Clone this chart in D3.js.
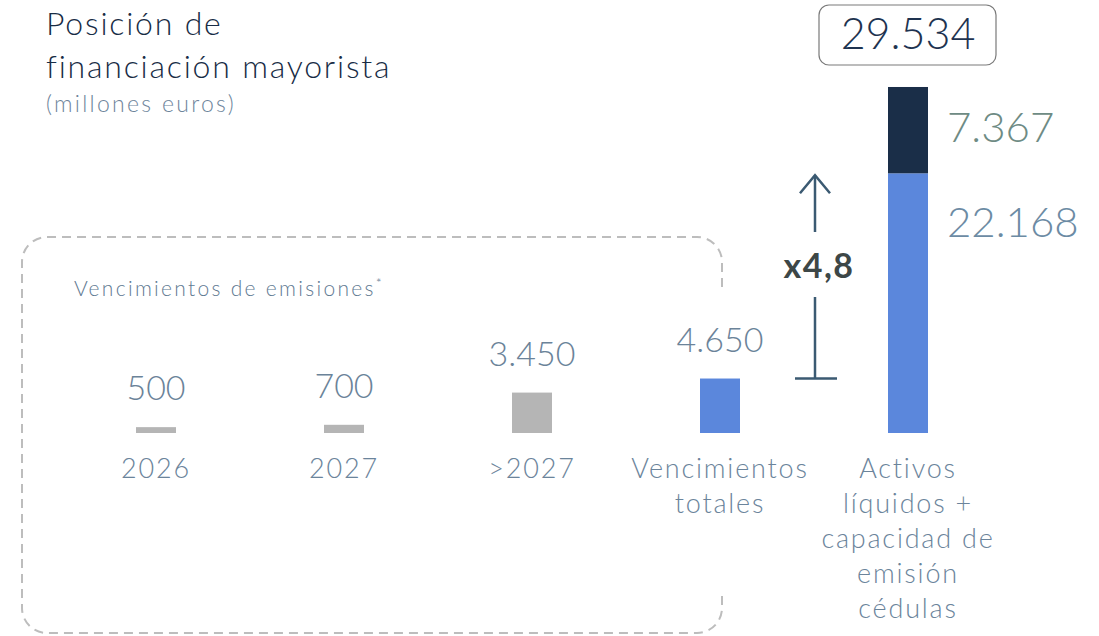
<!DOCTYPE html>
<html>
<head>
<meta charset="utf-8">
<script src="https://cdn.jsdelivr.net/npm/d3@7"></script>
<style>
  body { margin: 0; background: #fff; }
  svg { font-family: "Lato", "Open Sans", sans-serif; }
</style>
</head>
<body>
<script>
// Chart data
var categories = ["2026", "2027", ">2027", "Vencimientos totales", "Activos líquidos + capacidad de emisión cédulas"];
var categoryLines = [["2026"], ["2027"], [">2027"], ["Vencimientos", "totales"], ["Activos", "líquidos +", "capacidad de", "emisión", "cédulas"]];
var maturities = [500, 700, 3450, 4650];
var maturityColors = ["#b5b5b5", "#b5b5b5", "#b5b5b5", "#5b87dc"];
var liquidAssets = 22168;
var bondCapacity = 7367;
var totalLiquidity = 29534;   // as published (components are rounded)
var ratioLabel = "x4,8";

var svgWidth = 1099;
var svgHeight = 636;

var svg = d3.select("body")
  .append("svg")
  .attr("width", svgWidth)
  .attr("height", svgHeight);

// Spanish number format (dot as thousands separator)
var es = d3.formatLocale({ decimal: ",", thousands: ".", grouping: [3], currency: ["", " €"] });
var fmt = es.format(",d");

var xScale = d3.scalePoint()
  .domain(categories)
  .range([156, 908]);

var yScale = d3.scaleLinear()
  .domain([0, totalLiquidity])
  .range([433, 87]);

var barWidth = 40;

// Title
svg.append("text")
  .attr("x", 46).attr("y", 35)
  .attr("font-size", 32).attr("font-weight", 300).attr("fill", "#182c45")
  .attr("letter-spacing", 1.8)
  .text("Posición de");
svg.append("text")
  .attr("x", 46).attr("y", 78)
  .attr("font-size", 32).attr("font-weight", 300).attr("fill", "#182c45")
  .attr("letter-spacing", 1.8)
  .text("financiación mayorista");
svg.append("text")
  .attr("x", 46).attr("y", 112)
  .attr("font-size", 23).attr("font-weight", 300).attr("fill", "#6e859b")
  .attr("letter-spacing", 2.3)
  .text("(millones euros)");

// Dashed box around issue maturities (open on the right where the totals label sits)
var r = 25, bx0 = 22, bx1 = 722, by0 = 237, by1 = 633;
var boxPath = d3.path();
boxPath.moveTo(bx1, 287);
boxPath.lineTo(bx1, by0 + r);
boxPath.arcTo(bx1, by0, bx1 - r, by0, r);
boxPath.lineTo(bx0 + r, by0);
boxPath.arcTo(bx0, by0, bx0, by0 + r, r);
boxPath.lineTo(bx0, by1 - r);
boxPath.arcTo(bx0, by1, bx0 + r, by1, r);
boxPath.lineTo(bx1 - r, by1);
boxPath.arcTo(bx1, by1, bx1, by1 - r, r);
boxPath.lineTo(bx1, 594);
svg.append("path")
  .attr("d", boxPath.toString())
  .attr("fill", "none")
  .attr("stroke", "#bdbdbd")
  .attr("stroke-width", 2)
  .attr("stroke-dasharray", "9,6");

var boxTitle = svg.append("text")
  .attr("x", 74).attr("y", 296)
  .attr("font-size", 21).attr("font-weight", 300).attr("fill", "#5f7a92")
  .attr("letter-spacing", 2.3)
  .text("Vencimientos de emisiones");
boxTitle.append("tspan")
  .attr("font-size", 14).attr("dy", -8)
  .text("*");

// Maturity bars
svg.selectAll(".mat")
  .data(maturities)
  .enter().append("rect")
  .attr("class", "mat")
  .attr("x", (d, i) => xScale(categories[i]) - barWidth / 2)
  .attr("y", d => yScale(d))
  .attr("width", barWidth)
  .attr("height", d => yScale(0) - yScale(d))
  .attr("fill", (d, i) => maturityColors[i]);

svg.selectAll(".matLabel")
  .data(maturities)
  .enter().append("text")
  .attr("class", "matLabel")
  .attr("x", (d, i) => xScale(categories[i]))
  .attr("y", d => yScale(d) - 27)
  .attr("text-anchor", "middle")
  .attr("font-size", 34).attr("font-weight", 300).attr("fill", "#6b8399")
  .text(d => fmt(d));

// Stacked liquidity bar
var xLast = xScale(categories[4]);
var segments = [
  { y0: 0, y1: liquidAssets, color: "#5b87dc", label: "#6c8ba4", dy: 64 },
  { y0: liquidAssets, y1: liquidAssets + bondCapacity, color: "#1a2e48", label: "#6e8b84", dy: 55 }
];
svg.selectAll(".seg")
  .data(segments)
  .enter().append("rect")
  .attr("class", "seg")
  .attr("x", xLast - barWidth / 2)
  .attr("y", d => yScale(d.y1))
  .attr("width", barWidth)
  .attr("height", d => yScale(d.y0) - yScale(d.y1))
  .attr("fill", d => d.color);

svg.selectAll(".segLabel")
  .data(segments)
  .enter().append("text")
  .attr("class", "segLabel")
  .attr("x", xLast + barWidth / 2 + 19)
  .attr("y", d => yScale(d.y1) + d.dy)
  .attr("font-size", 42).attr("font-weight", 300).attr("fill", d => d.label)
  .text(d => fmt(d.y1 - d.y0));

// Total box
svg.append("rect")
  .attr("x", xLast - 89).attr("y", 5)
  .attr("width", 177).attr("height", 60)
  .attr("rx", 10)
  .attr("fill", "#fff").attr("stroke", "#7a7a7a").attr("stroke-width", 1.2);
svg.append("text")
  .attr("x", xLast).attr("y", 49)
  .attr("text-anchor", "middle")
  .attr("font-size", 43).attr("font-weight", 300).attr("fill", "#1e3350")
  .text(fmt(totalLiquidity));

// Ratio arrow between total maturities and liquid assets
var ax = 815;
var yTop = yScale(liquidAssets) + 2;
var yBot = yScale(maturities[3]);
var arrow = svg.append("g")
  .attr("stroke", "#3b5a72").attr("stroke-width", 2.5).attr("fill", "none");
arrow.append("line").attr("x1", ax).attr("x2", ax).attr("y1", yTop).attr("y2", 232);
arrow.append("polyline")
  .attr("points", [[ax - 15, yTop + 18], [ax, yTop], [ax + 15, yTop + 18]].join(" "));
arrow.append("line").attr("x1", ax).attr("x2", ax).attr("y1", 297).attr("y2", yBot);
arrow.append("line").attr("x1", ax - 20).attr("x2", ax + 22).attr("y1", yBot).attr("y2", yBot);

svg.append("text")
  .attr("x", 819).attr("y", 278)
  .attr("text-anchor", "middle")
  .attr("font-size", 34).attr("font-weight", 700).attr("fill", "#3d4747")
  .attr("letter-spacing", 1.5)
  .text(ratioLabel);

// Category labels
var catLabels = svg.selectAll(".cat")
  .data(categoryLines)
  .enter().append("text")
  .attr("class", "cat")
  .attr("x", (d, i) => xScale(categories[i]))
  .attr("y", 478)
  .attr("text-anchor", "middle")
  .attr("font-size", 27).attr("font-weight", 300).attr("fill", "#6b849b")
  .attr("letter-spacing", 1.8);
catLabels.selectAll("tspan")
  .data((d, i) => d.map(line => ({ line: line, x: xScale(categories[i]) })))
  .enter().append("tspan")
  .attr("x", d => d.x)
  .attr("dy", (d, j) => j === 0 ? 0 : 35)
  .text(d => d.line);
</script>
</body>
</html>
